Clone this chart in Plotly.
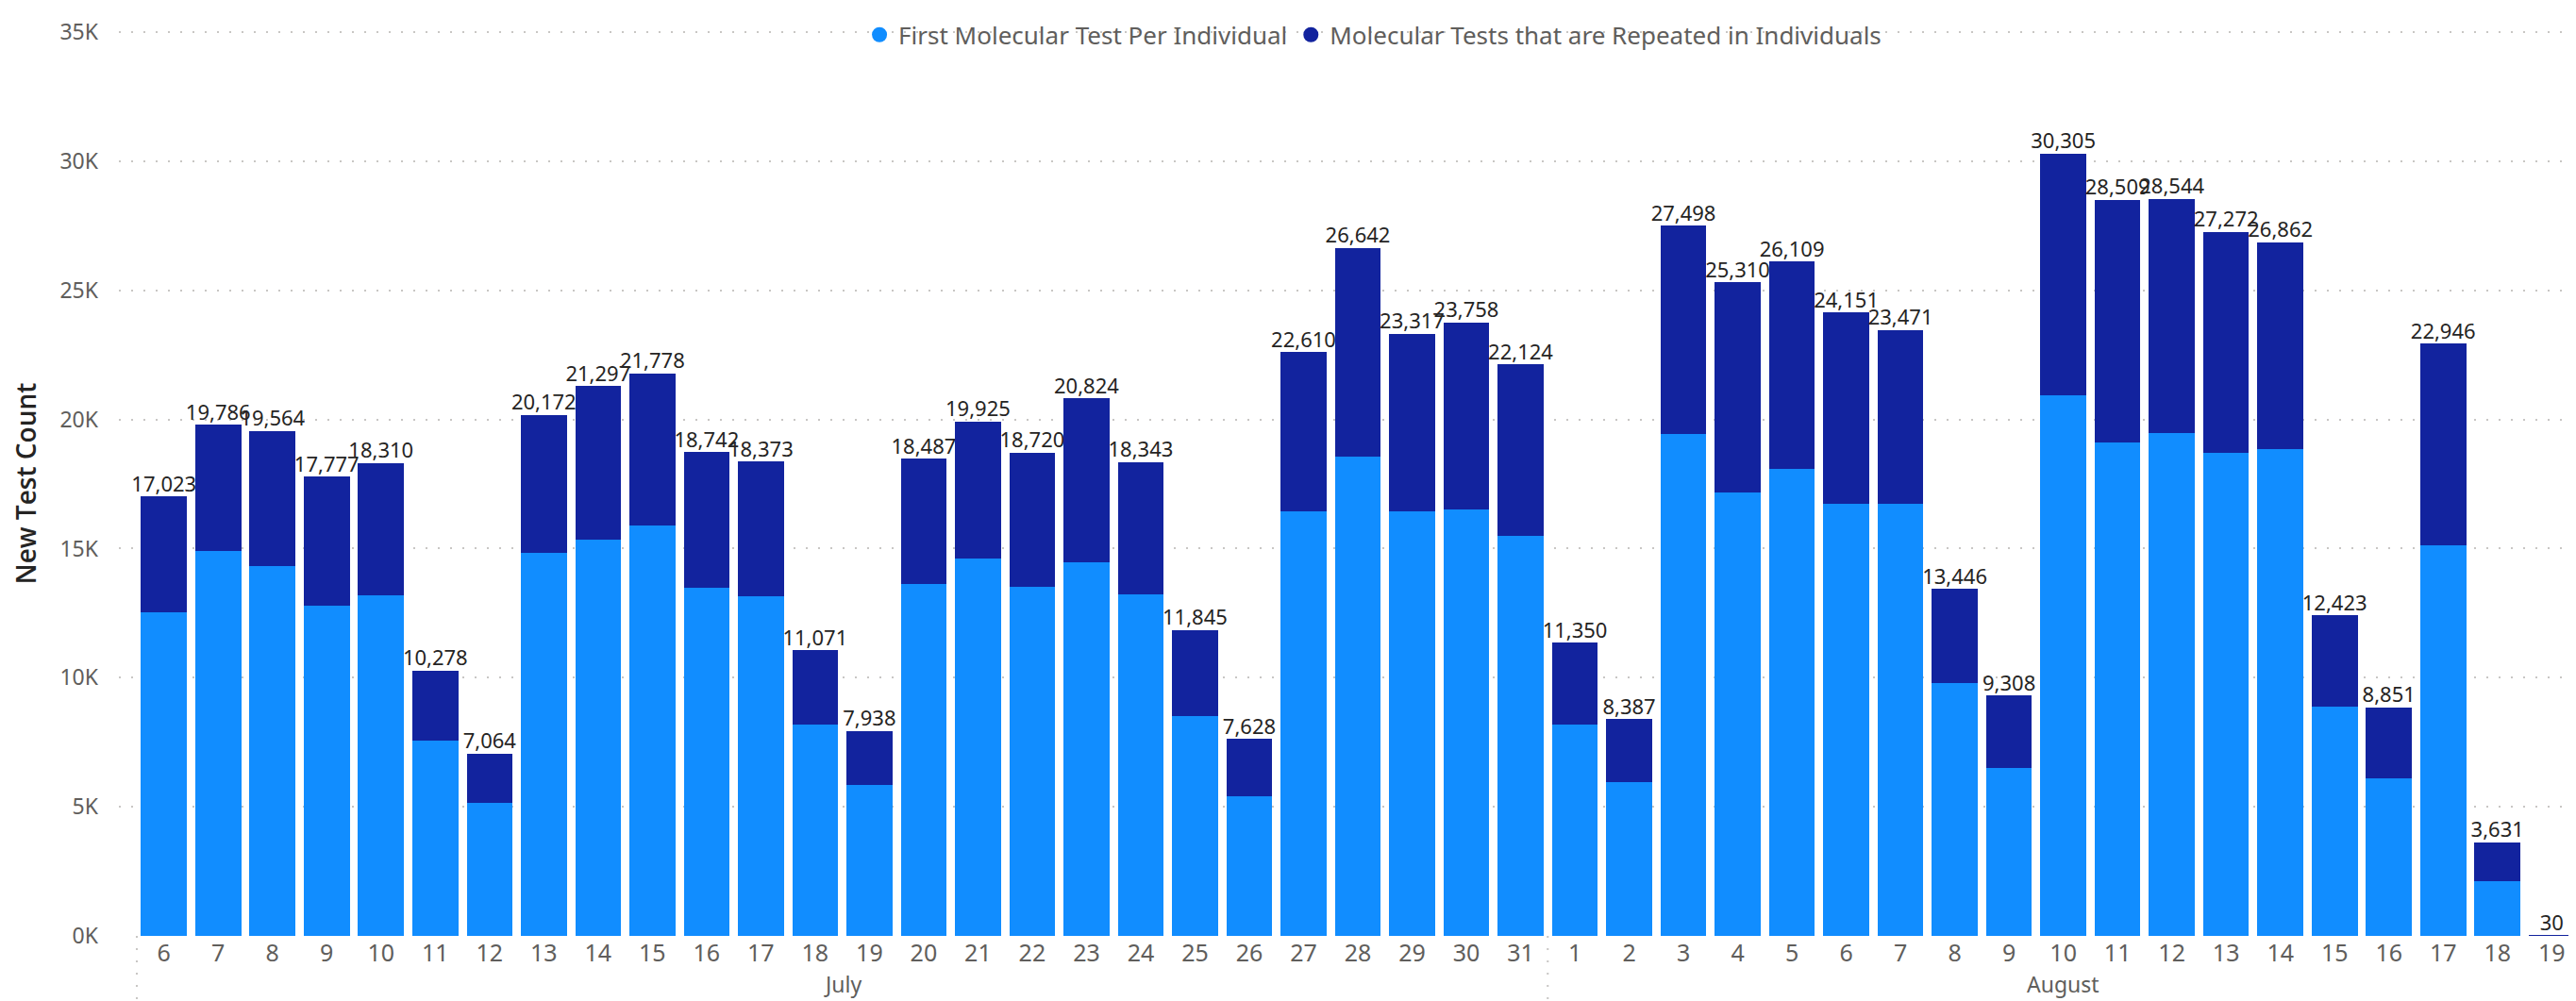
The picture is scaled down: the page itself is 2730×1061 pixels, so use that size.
import plotly.graph_objects as go

# ---- data ----
months = ["July"] * 26 + ["August"] * 19
days = [6, 7, 8, 9, 10, 11, 12, 13, 14, 15, 16, 17, 18, 19, 20, 21, 22, 23, 24, 25, 26, 27, 28, 29, 30, 31,
        1, 2, 3, 4, 5, 6, 7, 8, 9, 10, 11, 12, 13, 14, 15, 16, 17, 18, 19]

first_test = [12530, 14890, 14310, 12780, 13180, 7550, 5150, 14820, 15360, 15910, 13470, 13150, 8190,
              5830, 13640, 14620, 13530, 14470, 13230, 8530, 5400, 16440, 18570, 16440, 16510, 15490,
              8170, 5950, 19430, 17180, 18090, 16720, 16720, 9810, 6510, 20950, 19100, 19470, 18710,
              18860, 8870, 6120, 15130, 2130, 6]
repeated = [4493, 4896, 5254, 4997, 5130, 2728, 1914, 5352, 5937, 5868, 5272, 5223, 2881,
            2108, 4847, 5305, 5190, 6354, 5113, 3315, 2228, 6170, 8072, 6877, 7248, 6634,
            3180, 2437, 8068, 8130, 8019, 7431, 6751, 3636, 2798, 9355, 9409, 9074, 8562,
            8002, 3553, 2731, 7816, 1501, 24]
totals = [17023, 19786, 19564, 17777, 18310, 10278, 7064, 20172, 21297, 21778, 18742, 18373, 11071,
          7938, 18487, 19925, 18720, 20824, 18343, 11845, 7628, 22610, 26642, 23317, 23758, 22124,
          11350, 8387, 27498, 25310, 26109, 24151, 23471, 13446, 9308, 30305, 28509, 28544, 27272,
          26862, 12423, 8851, 22946, 3631, 30]

y_ticks = [0, 5000, 10000, 15000, 20000, 25000, 30000, 35000]
y_tick_labels = ["0K", "5K", "10K", "15K", "20K", "25K", "30K", "35K"]

series_names = ["First Molecular Test Per Individual", "Molecular Tests that are Repeated in Individuals"]
colors = ["#118DFF", "#12239E"]

FONT = "Noto Sans"
GRAY = "#605E5C"
DOTS = "2px,11px"
DOTCOLOR = "#C8C6C4"

idx = list(range(len(days)))

fig = go.Figure()
fig.add_trace(go.Bar(x=idx, y=first_test, marker_color=colors[0], name=series_names[0],
                     showlegend=False, marker_line_width=0))
fig.add_trace(go.Bar(x=idx, y=repeated, marker_color=colors[1], name=series_names[1],
                     showlegend=False, marker_line_width=0))
fig.add_trace(go.Scatter(x=idx, y=totals, mode="text", text=[f"{v:,}" for v in totals],
                         textposition="top center", showlegend=False, cliponaxis=False,
                         textfont=dict(family=FONT, size=22, color="#252423"), hoverinfo="skip"))
# legend entries with round markers
for name, c in zip(series_names, colors):
    fig.add_trace(go.Scatter(x=[None], y=[None], mode="markers", name=name,
                             marker=dict(symbol="circle", size=19, color=c)))

# month group labels and dividers derived from the data
groups = []
for i, m in enumerate(months):
    if not groups or groups[-1][0] != m:
        groups.append([m, i, i])
    else:
        groups[-1][2] = i

shapes = []
annotations = []
for m, s, e in groups:
    annotations.append(dict(x=(s + e) / 2, y=-0.053, xref="x", yref="paper", text=m, showarrow=False,
                            font=dict(family=FONT, size=23, color=GRAY), yanchor="middle"))
    shapes.append(dict(type="line", xref="x", yref="paper", x0=s - 0.5, x1=s - 0.5, y0=0, y1=-0.072,
                       line=dict(color=DOTCOLOR, width=2, dash=DOTS)))
shapes.append(dict(type="line", xref="x", yref="paper", x0=len(days) - 0.5, x1=len(days) - 0.5,
                   y0=0, y1=-0.06, line=dict(color=DOTCOLOR, width=2, dash=DOTS)))

fig.update_layout(
    width=2730, height=1061,
    barmode="stack", bargap=0.155,
    plot_bgcolor="white", paper_bgcolor="white",
    margin=dict(l=118, r=5, t=16, b=77),
    font=dict(family=FONT, color=GRAY),
    legend=dict(orientation="h", x=0.51, xanchor="center", y=0.996, yanchor="middle",
                traceorder="normal",
                bgcolor="rgba(0,0,0,0)", font=dict(family=FONT, size=26, color=GRAY),
                itemwidth=30, tracegroupgap=0),
    shapes=shapes, annotations=annotations,
)
fig.update_xaxes(range=[-0.83, len(days) - 0.5], tickmode="array", tickvals=idx,
                 ticktext=[str(d) for d in days], showgrid=False, zeroline=False, showline=False,
                 tickfont=dict(family=FONT, size=25, color=GRAY), ticks="", ticklabelstandoff=1)
fig.update_yaxes(range=[0, 35040], tickmode="array", tickvals=y_ticks, ticktext=y_tick_labels,
                 showgrid=True, gridcolor=DOTCOLOR, griddash=DOTS, gridwidth=2,
                 zeroline=False, showline=False,
                 tickfont=dict(family=FONT, size=23, color=GRAY), ticklabelstandoff=21,
                 title=dict(text="New Test Count", standoff=17,
                            font=dict(family="Open Sans", size=28, color="#252423", weight=600)))

fig.write_html("out.html")
